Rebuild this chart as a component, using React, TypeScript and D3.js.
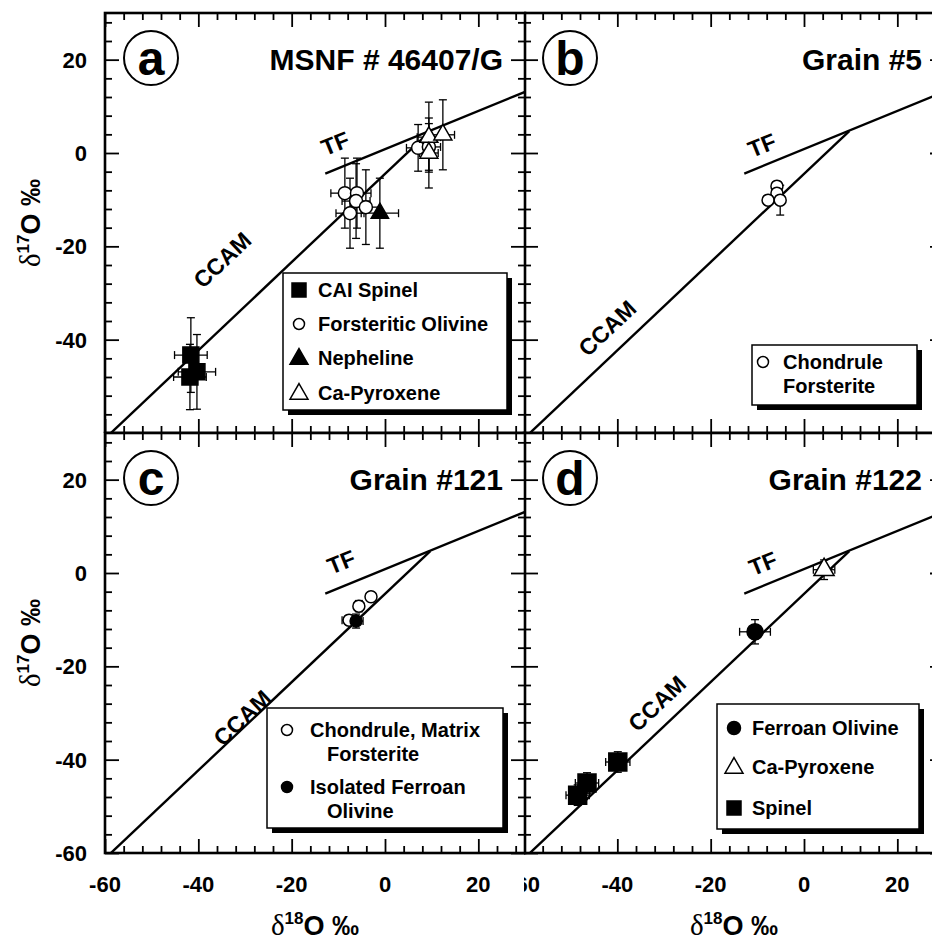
import React, { useRef, useEffect } from 'react';
import * as d3 from 'd3';

type Pt = { x: number; y: number; ex: number; ey: number };

// axis ticks (per mil)
const majorTicks = [-60, -40, -20, 0, 20];
const minorTicks = [-56, -52, -48, -44, -36, -32, -28, -24, -16, -12, -8, -4, 4, 8, 12, 16, 24, 28];

// reference lines [d18O, d17O]
const tfLine: [number, number][] = [[-12.8, -4.4], [30, 13.1]];
const ccamLine: [number, number][] = [[-60, -61.2], [9.7, 4.7]];

// panel a : MSNF # 46407/G
const aSpinel: Pt[] = [
  { x: -41.6, y: -43.3, ex: 3.5, ey: 8 },
  { x: -41.8, y: -48.0, ex: 3.5, ey: 7 },
  { x: -40.3, y: -46.9, ex: 4, ey: 8 },
];
const aOlivine: Pt[] = [
  { x: -8.6, y: -8.6, ex: 3, ey: 7.5 },
  { x: -6.0, y: -8.6, ex: 3, ey: 7.5 },
  { x: -6.2, y: -10.3, ex: 3, ey: 8 },
  { x: -4.1, y: -11.6, ex: 3, ey: 8 },
  { x: -7.5, y: -12.9, ex: 3, ey: 7.5 },
  { x: 7.1, y: 1.1, ex: 2.5, ey: 5 },
  { x: 9.4, y: 1.3, ex: 2.5, ey: 5 },
];
const aNepheline: Pt[] = [{ x: -1.1, y: -12.9, ex: 4, ey: 7.5 }];
const aPyroxene: Pt[] = [
  { x: 9.4, y: 3.4, ex: 2.5, ey: 7.5 },
  { x: 12.4, y: 3.9, ex: 2.5, ey: 7.5 },
  { x: 9.4, y: 0.0, ex: 2, ey: 7.5 },
];

// panel b : Grain #5
const bForsterite: Pt[] = [
  { x: -5.8, y: -7.1, ex: 0.8, ey: 1 },
  { x: -5.8, y: -8.6, ex: 0.8, ey: 1 },
  { x: -7.7, y: -10.1, ex: 0.8, ey: 1 },
  { x: -5.1, y: -10.1, ex: 0.8, ey: 3.2 },
];

// panel c : Grain #121
const cForsterite: Pt[] = [
  { x: -3.0, y: -5.1, ex: 1, ey: 1 },
  { x: -5.6, y: -7.1, ex: 1, ey: 1.2 },
  { x: -7.7, y: -10.1, ex: 1.5, ey: 1 },
];
const cFerroan: Pt[] = [{ x: -6.2, y: -10.3, ex: 1.5, ey: 1.5 }];

// panel d : Grain #122
const dFerroan: Pt[] = [{ x: -10.5, y: -12.6, ex: 3.3, ey: 2.6 }];
const dPyroxene: Pt[] = [{ x: 4.3, y: 0.7, ex: 2.3, ey: 2.1 }];
const dSpinel: Pt[] = [
  { x: -39.9, y: -40.5, ex: 2.6, ey: 2.2 },
  { x: -46.5, y: -45.0, ex: 2.5, ey: 2.2 },
  { x: -48.5, y: -47.6, ex: 2.5, ey: 2.2 },
];

const SIZE = 420;
const FONT = 'Liberation Sans, Arial, Helvetica, sans-serif';

const SQ = d3.symbolSquare, CI = d3.symbolCircle, TR = d3.symbolTriangle;

// drawing order matters: later panels hide the covered tick labels of earlier ones
const panels = [
  {
    id: 'b', title: 'Grain #5', x0: 524, y0: 13, bg: [524, 0, 420, 433],
    series: [{ pts: bForsterite, type: CI, size: 113, fill: '#fff' }],
    tf: [-9.0, 1.7], ccam: [-42.2, -37.5],
    legend: { box: [228, 332, 165, 60], items: [
      { type: CI, size: 95, fill: '#fff', sx: 239, sy: 349, lines: [['Chondrule', 259, 356], ['Forsterite', 259, 380]] },
    ] },
  },
  {
    id: 'a', title: 'MSNF # 46407/G', x0: 105, y0: 13, bg: [0, 0, 524, 433], yLabels: [-40, -20, 0, 20],
    series: [
      { pts: aSpinel, type: SQ, size: 256, fill: '#000' },
      { pts: aOlivine, type: CI, size: 133, fill: '#fff' },
      { pts: aNepheline, type: TR, size: 130, fill: '#000' },
      { pts: aPyroxene, type: TR, size: 140, fill: '#fff' },
    ],
    tf: [-10.7, 2.1], ccam: [-34.9, -22.9],
    legend: { box: [178, 260, 224, 137], items: [
      { type: SQ, size: 196, fill: '#000', sx: 194, sy: 277, lines: [['CAI Spinel', 213, 284]] },
      { type: CI, size: 95, fill: '#fff', sx: 194, sy: 311, lines: [['Forsteritic Olivine', 213, 318]] },
      { type: TR, size: 140, fill: '#000', sx: 194, sy: 346, lines: [['Nepheline', 213, 352]] },
      { type: TR, size: 140, fill: '#fff', sx: 194, sy: 381, lines: [['Ca-Pyroxene', 213, 387]] },
    ] },
  },
  {
    id: 'd', title: 'Grain #122', x0: 524, y0: 433, bg: [524, 433, 420, 508], xLabels: true,
    series: [
      { pts: dFerroan, type: CI, size: 201, fill: '#000' },
      { pts: dPyroxene, type: TR, size: 175, fill: '#fff' },
      { pts: dSpinel, type: SQ, size: 324, fill: '#000' },
    ],
    tf: [-8.8, 2.1], ccam: [-31.5, -27.9],
    legend: { box: [193, 271, 202, 125], items: [
      { type: CI, size: 133, fill: '#000', sx: 210, sy: 295, lines: [['Ferroan Olivine', 228, 302]] },
      { type: TR, size: 140, fill: '#fff', sx: 210, sy: 335, lines: [['Ca-Pyroxene', 228, 341]] },
      { type: SQ, size: 196, fill: '#000', sx: 210, sy: 375, lines: [['Spinel', 228, 382]] },
    ] },
  },
  {
    id: 'c', title: 'Grain #121', x0: 105, y0: 433, bg: [0, 433, 524, 508], xLabels: true, yLabels: majorTicks,
    series: [
      { pts: cForsterite, type: CI, size: 113, fill: '#fff' },
      { pts: cFerroan, type: CI, size: 113, fill: '#000' },
    ],
    tf: [-9.4, 2.4], ccam: [-30.6, -31.0],
    legend: { box: [162, 275, 236, 120], items: [
      { type: CI, size: 95, fill: '#fff', sx: 182, sy: 297, lines: [['Chondrule, Matrix', 205, 304], ['Forsterite', 222, 328]] },
      { type: CI, size: 95, fill: '#000', sx: 182, sy: 354, lines: [['Isolated Ferroan', 205, 361], ['Olivine', 222, 385]] },
    ] },
  },
];

const App = () => {
  const svgRef = useRef<SVGSVGElement>(null);

  useEffect(() => {
    const svg = d3.select(svgRef.current);
    svg.selectAll('*').remove();
    const defs = svg.append('defs');

    panels.forEach((p: any) => {
      const x = d3.scaleLinear().domain([-60, 30]).range([p.x0, p.x0 + SIZE]);
      const y = d3.scaleLinear().domain([-60, 30]).range([p.y0 + SIZE, p.y0]);
      const g = svg.append('g').attr('font-family', FONT).attr('font-weight', 'bold');

      // white background hides the neighbour's covered labels
      g.append('rect').attr('x', p.bg[0]).attr('y', p.bg[1]).attr('width', p.bg[2]).attr('height', p.bg[3]).attr('fill', '#fff');

      defs.append('clipPath').attr('id', `clip-${p.id}`).append('rect')
        .attr('x', p.x0).attr('y', p.y0).attr('width', SIZE).attr('height', SIZE);
      const plot = g.append('g').attr('clip-path', `url(#clip-${p.id})`);

      // TF and CCAM lines
      const line = d3.line<[number, number]>().x(d => x(d[0])).y(d => y(d[1]));
      [tfLine, ccamLine].forEach(l => {
        plot.append('path').datum(l).attr('d', line).attr('fill', 'none').attr('stroke', '#000').attr('stroke-width', 2.4);
      });

      g.append('text').attr('transform', `translate(${x(p.tf[0])},${y(p.tf[1])}) rotate(-22)`)
        .attr('text-anchor', 'middle').attr('dy', '0.36em').attr('font-size', 23).text('TF');
      g.append('text').attr('transform', `translate(${x(p.ccam[0])},${y(p.ccam[1])}) rotate(-43.4)`)
        .attr('text-anchor', 'middle').attr('dy', '0.36em').attr('font-size', 23).text('CCAM');

      // error bars then markers
      p.series.forEach((s: any) => {
        const eb = plot.append('g').attr('stroke', '#000').attr('stroke-width', 1.3);
        s.pts.forEach((d: Pt) => {
          const cx = x(d.x), cy = y(d.y);
          const xl = x(d.x - d.ex), xr = x(d.x + d.ex), yt = y(d.y + d.ey), yb = y(d.y - d.ey);
          eb.append('line').attr('x1', xl).attr('x2', xr).attr('y1', cy).attr('y2', cy);
          eb.append('line').attr('x1', xl).attr('x2', xl).attr('y1', cy - 4).attr('y2', cy + 4);
          eb.append('line').attr('x1', xr).attr('x2', xr).attr('y1', cy - 4).attr('y2', cy + 4);
          eb.append('line').attr('x1', cx).attr('x2', cx).attr('y1', yt).attr('y2', yb);
          eb.append('line').attr('x1', cx - 4).attr('x2', cx + 4).attr('y1', yt).attr('y2', yt);
          eb.append('line').attr('x1', cx - 4).attr('x2', cx + 4).attr('y1', yb).attr('y2', yb);
        });
      });
      p.series.forEach((s: any) => {
        plot.append('g').selectAll('path').data(s.pts).join('path')
          .attr('transform', (d: any) => `translate(${x(d.x)},${y(d.y)})`)
          .attr('d', d3.symbol().type(s.type).size(s.size)())
          .attr('fill', s.fill).attr('stroke', '#000').attr('stroke-width', 1.5);
      });

      // legend with drop shadow
      const lg = g.append('g').attr('transform', `translate(${p.x0},${p.y0})`);
      const [bx, by, bw, bh] = p.legend.box;
      lg.append('rect').attr('x', bx + 5).attr('y', by + 5).attr('width', bw).attr('height', bh).attr('fill', '#000');
      lg.append('rect').attr('x', bx).attr('y', by).attr('width', bw).attr('height', bh)
        .attr('fill', '#fff').attr('stroke', '#000').attr('stroke-width', 1.5);
      p.legend.items.forEach((it: any) => {
        lg.append('path').attr('transform', `translate(${it.sx},${it.sy})`)
          .attr('d', d3.symbol().type(it.type).size(it.size)())
          .attr('fill', it.fill).attr('stroke', '#000').attr('stroke-width', 1.5);
        it.lines.forEach((l: any) => {
          lg.append('text').attr('x', l[1]).attr('y', l[2]).attr('font-size', 20).text(l[0]);
        });
      });

      // inward ticks on all four sides
      const ticks = (axis: any, tr: string, vals: number[], len: number) => {
        g.append('g').attr('transform', tr)
          .call(axis.tickValues(vals).tickSize(-len).tickFormat(() => ''))
          .call((s: any) => s.select('.domain').remove())
          .call((s: any) => s.selectAll('line').attr('stroke', '#000').attr('stroke-width', 1.8));
      };
      [[majorTicks, 14], [minorTicks, 7]].forEach(([vals, len]: any) => {
        ticks(d3.axisBottom(x), `translate(0,${p.y0 + SIZE})`, vals, len);
        ticks(d3.axisTop(x), `translate(0,${p.y0})`, vals, len);
        ticks(d3.axisLeft(y), `translate(${p.x0},0)`, vals, len);
        ticks(d3.axisRight(y), `translate(${p.x0 + SIZE},0)`, vals, len);
      });
      g.append('rect').attr('x', p.x0).attr('y', p.y0).attr('width', SIZE).attr('height', SIZE)
        .attr('fill', 'none').attr('stroke', '#000').attr('stroke-width', 2.6);

      // title and panel letter
      g.append('text').attr('x', p.x0 + SIZE - 22).attr('y', p.y0 + 57).attr('text-anchor', 'end')
        .attr('font-size', 30).text(p.title);
      g.append('circle').attr('cx', p.x0 + 46).attr('cy', p.y0 + 45).attr('r', 27)
        .attr('fill', '#fff').attr('stroke', '#000').attr('stroke-width', 2);
      g.append('text').attr('x', p.x0 + 46).attr('y', p.y0 + 62).attr('text-anchor', 'middle')
        .attr('font-size', 48).text(p.id);

      if (p.yLabels) {
        g.append('g').selectAll('text').data(p.yLabels as number[]).join('text')
          .attr('x', p.x0 - 18).attr('y', d => y(d) + 8).attr('text-anchor', 'end').attr('font-size', 22)
          .text(d => String(d));
        const t = g.append('text').attr('transform', `translate(40,${p.y0 + SIZE / 2}) rotate(-90)`)
          .attr('text-anchor', 'middle').attr('font-size', 27);
        t.append('tspan').attr('font-family', 'Liberation Serif, Times New Roman, serif').attr('font-weight', 'normal').attr('font-size', 29).text('δ');
        t.append('tspan').attr('font-size', 17).attr('dy', -11).text('17');
        t.append('tspan').attr('dy', 11).text('O ‰');
      }
      if (p.xLabels) {
        g.append('g').selectAll('text').data(majorTicks).join('text')
          .attr('x', d => x(d)).attr('y', p.y0 + SIZE + 39).attr('text-anchor', 'middle').attr('font-size', 22)
          .text(d => String(d));
        const t = g.append('text').attr('x', p.x0 + SIZE / 2).attr('y', 935)
          .attr('text-anchor', 'middle').attr('font-size', 27);
        t.append('tspan').attr('font-family', 'Liberation Serif, Times New Roman, serif').attr('font-weight', 'normal').attr('font-size', 29).text('δ');
        t.append('tspan').attr('font-size', 17).attr('dy', -11).text('18');
        t.append('tspan').attr('dy', 11).text('O ‰');
      }
    });
  }, []);

  return (
    <svg ref={svgRef} width={932} height={941}
      style={{ position: 'absolute', left: 0, top: 0, background: '#fff' }} />
  );
};

export default App;
